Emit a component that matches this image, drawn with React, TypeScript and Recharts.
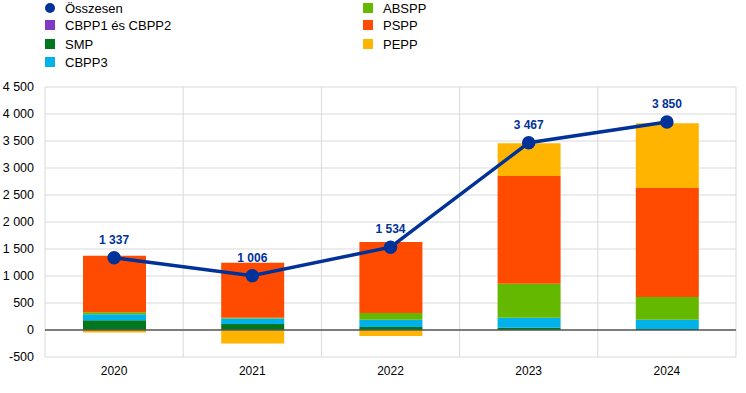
import {
  ComposedChart,
  Bar,
  Line,
  XAxis,
  YAxis,
  CartesianGrid,
  ReferenceLine,
  LabelList,
} from "recharts"

const years = ["2020", "2021", "2022", "2023", "2024"]
const smp = [180, 110, 55, 40, 20]
const cbpp12 = [0, 0, 0, 0, 0]
const cbpp3 = [110, 105, 135, 185, 170]
const abspp = [40, 12, 125, 630, 420]
const pspp = [1045, 1020, 1315, 1995, 2020]
const pepp = [-45, -250, -110, 610, 1200]
const total = [1337, 1006, 1534, 3467, 3850]
const yTicks = [-500, 0, 500, 1000, 1500, 2000, 2500, 3000, 3500, 4000, 4500]

const data = years.map((y, i) => ({
  year: y,
  smp: smp[i],
  cbpp12: cbpp12[i],
  cbpp3: cbpp3[i],
  abspp: abspp[i],
  pspp: pspp[i],
  pepp: pepp[i],
  total: total[i],
}))

const BLUE = "#003299"
const font = "Arial, 'Liberation Sans', sans-serif"

const legendItems = [
  { name: "Összesen", color: BLUE, dot: true, x: 45, y: 8 },
  { name: "CBPP1 és CBPP2", color: "#8139c6", x: 45, y: 25 },
  { name: "SMP", color: "#00771f", x: 45, y: 44 },
  { name: "CBPP3", color: "#00b1ea", x: 45, y: 62 },
  { name: "ABSPP", color: "#65b800", x: 363, y: 8 },
  { name: "PSPP", color: "#ff4b00", x: 363, y: 25 },
  { name: "PEPP", color: "#ffb400", x: 363, y: 44 },
]

function fmt(v: number | string): string {
  const n = Number(v)
  const s = String(Math.abs(n)).replace(/\B(?=(\d{3})+(?!\d))/g, " ")
  return (n < 0 ? "-" : "") + s
}

function LegendBox() {
  return (
    <div style={{ position: "absolute", left: 0, top: 0, width: 746, height: 80, fontFamily: font, fontSize: 13, color: "#000" }}>
      {legendItems.map((it) => (
        <div key={it.name} style={{ position: "absolute", left: it.x, top: it.y - 8, height: 16, display: "flex", alignItems: "center" }}>
          <span
            style={{
              display: "inline-block",
              width: 10,
              height: 10,
              background: it.color,
              borderRadius: it.dot ? 5 : 0,
              marginRight: 10,
            }}
          />
          <span>{it.name}</span>
        </div>
      ))}
    </div>
  )
}

function boundaries({ offset }: any) {
  const out: number[] = []
  for (let i = 0; i <= years.length; i++) out.push(offset.left + (i * offset.width) / years.length)
  return out
}

export default function App() {
  return (
    <div style={{ position: "absolute", left: 0, top: 0, width: 746, height: 393, background: "#fff" }}>
      <ComposedChart
        width={746}
        height={393}
        data={data}
        stackOffset="sign"
        margin={{ top: 87, right: 10, bottom: 6, left: 0 }}
      >
        <CartesianGrid stroke="#d9d9d9" verticalCoordinatesGenerator={boundaries} />
        <XAxis
          dataKey="year"
          height={30}
          axisLine={false}
          tickLine={false}
          tickMargin={3}
          tick={{ fontSize: 12, fill: "#000", fontFamily: font }}
        />
        <YAxis
          width={45}
          domain={[-500, 4500]}
          ticks={yTicks}
          axisLine={false}
          tickLine={false}
          tickMargin={5}
          interval={0}
          tickFormatter={fmt}
          tick={{ fontSize: 12.5, fill: "#000", fontFamily: font }}
        />
        <Bar dataKey="smp" stackId="a" fill="#00771f" barSize={63} isAnimationActive={false} />
        <Bar dataKey="cbpp12" stackId="a" fill="#8139c6" barSize={63} isAnimationActive={false} />
        <Bar dataKey="cbpp3" stackId="a" fill="#00b1ea" barSize={63} isAnimationActive={false} />
        <Bar dataKey="abspp" stackId="a" fill="#65b800" barSize={63} isAnimationActive={false} />
        <Bar dataKey="pspp" stackId="a" fill="#ff4b00" barSize={63} isAnimationActive={false} />
        <Bar dataKey="pepp" stackId="a" fill="#ffb400" barSize={63} isAnimationActive={false} />
        <ReferenceLine y={0} stroke="#595959" strokeWidth={1.5} />
        <Line
          dataKey="total"
          stroke={BLUE}
          strokeWidth={3.5}
          dot={{ r: 5, fill: BLUE, stroke: BLUE }}
          activeDot={false}
          isAnimationActive={false}
        >
          <LabelList
            dataKey="total"
            position="top"
            offset={14}
            formatter={fmt}
            style={{ fill: BLUE, fontWeight: "bold", fontSize: 12, fontFamily: font }}
          />
        </Line>
      </ComposedChart>
      <LegendBox />
    </div>
  )
}
